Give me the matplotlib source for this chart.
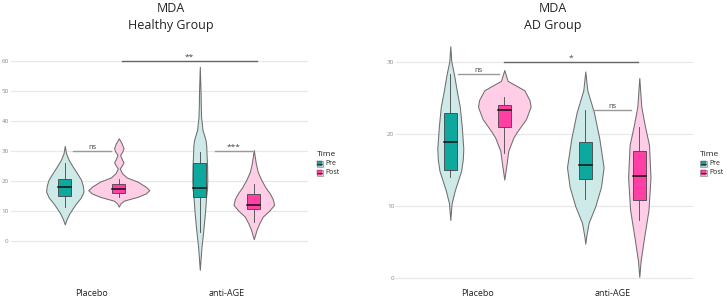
import numpy as np
import matplotlib.pyplot as plt
from matplotlib.patches import Rectangle

# categories / groups
groups = ['Placebo', 'anti-AGE']
times = ['Pre', 'Post']

# ---- Healthy group (order: Placebo-Pre, Placebo-Post, anti-AGE-Pre, anti-AGE-Post)
healthy_q1 = [15.2, 15.9, 14.8, 10.6]
healthy_med = [17.9, 17.3, 17.8, 12.2]
healthy_q3 = [20.6, 19.0, 26.1, 15.7]
healthy_wlo = [11.3, 14.8, 3.2, 6.5]
healthy_whi = [25.9, 20.6, 29.8, 19.0]

# violin outlines: values and half-width (density, px)
healthy_vy = [
    [5.6, 7.5, 9.3, 11, 12.6, 14.5, 16.5, 18.5, 20.4, 22.5, 24.8, 27, 29.2, 31.7],
    [11.5, 12.5, 13.5, 14.8, 15.9, 17.0, 18.1, 19.8, 21.2, 22.6, 24.2, 25.2, 26.2, 27.3, 28.7, 29.8, 30.9, 32.5, 34.2],
    [-9.5, -1.8, 2, 6.0, 10, 14.8, 17.5, 20.4, 25, 29.2, 31.5, 33.7, 35.3, 37.0, 41.4, 45, 50.3, 58.0],
    [0.7, 2, 3.8, 6, 8.2, 10.2, 12.1, 14, 15.9, 18, 20.4, 23, 25.9, 30.3],
]
healthy_vw = [
    [0, 2.0, 4.7, 8, 11.3, 16, 18.7, 18, 16.3, 12.5, 8, 4, 1.3, 0],
    [0, 1.5, 5, 19, 27, 30.5, 27, 19, 8, 3.3, 1, 3, 4.7, 3, 1.3, 3.5, 4.7, 3, 0],
    [0, 1.7, 3, 4.2, 5.3, 6.3, 7.2, 7.5, 7.3, 6.7, 6.5, 5.7, 4.3, 2.7, 1.3, 1.0, 0.7, 0],
    [0, 1.2, 2.7, 5.5, 9, 15.5, 20.3, 19, 16, 11.5, 7.5, 4, 2, 0],
]
healthy_sig = [('ns', 0.864, 1.141, 30), ('***', 1.909, 2.185, 30), ('**', 1.222, 2.222, 60)]

# ---- AD group
ad_q1 = [15.1, 21.0, 13.8, 10.8]
ad_med = [18.9, 23.4, 15.7, 14.2]
ad_q3 = [22.9, 24.0, 18.85, 17.6]
ad_wlo = [14.0, 17.4, 11.0, 8.1]
ad_whi = [28.3, 25.1, 23.3, 21.0]

ad_vy = [
    [8.1, 10.4, 12.2, 14.9, 16.5, 18.0, 21, 23.8, 26, 28.3, 30.1, 32.2],
    [13.7, 15.9, 17.7, 19.5, 20.3, 22.1, 23.8, 24.7, 26.1, 27.4, 28.9],
    [4.8, 5.9, 7.7, 10.0, 12.7, 15.4, 19.4, 23.0, 26.1, 28.7],
    [0.2, 2.4, 5.4, 9.5, 14.0, 18.5, 21.2, 23.8, 27.8],
]
ad_vw = [
    [0, 1.3, 4.5, 10.8, 12.5, 13, 11.5, 9.5, 6.5, 3.7, 1, 0],
    [0, 2.3, 4, 9, 12.5, 21.7, 26.3, 25.3, 20, 3.3, 0],
    [0, 1, 3.3, 10, 15.7, 18.3, 14, 8.7, 2, 0],
    [0, 1.3, 4.5, 9.2, 11.2, 9.7, 5.5, 2, 0],
]
ad_sig = [('ns', 0.857, 1.163, 28.4), ('ns', 1.859, 2.141, 23.3), ('*', 1.2, 2.193, 30)]

# styling
pre_dark, pre_light = '#0fa89e', '#cde9e8'
post_dark, post_light = '#ff3fa4', '#ffcde6'
px_per_unit = 135.0
dodge = 0.2
box_w = 0.094

plt.rcParams['font.family'] = ['Open Sans', 'DejaVu Sans']

fig = plt.figure(figsize=(7.27, 2.97), dpi=100)


def draw_panel(ax, q1, med, q3, wlo, whi, vy, vw, sig, yticks, ylim):
    ax.set_xlim(0.4, 2.6)
    ax.set_ylim(*ylim)
    for t in yticks:
        ax.axhline(t, color='#e8e8e8', lw=0.9, zorder=0)
    k = 0
    for gi in range(len(groups)):
        for ti in range(len(times)):
            x = gi + 1 + (-dodge if ti == 0 else dodge)
            dark = pre_dark if ti == 0 else post_dark
            light = pre_light if ti == 0 else post_light
            y = np.array(vy[k])
            w = np.array(vw[k]) / px_per_unit
            ax.fill_betweenx(y, x - w, x + w, facecolor=light, edgecolor='#6e6e6e', lw=0.75, zorder=1)
            # whiskers
            ax.plot([x, x], [wlo[k], q1[k]], color='#444444', lw=0.6, zorder=2)
            ax.plot([x, x], [q3[k], whi[k]], color='#444444', lw=0.6, zorder=2)
            ax.add_patch(Rectangle((x - box_w / 2, q1[k]), box_w, q3[k] - q1[k],
                                   facecolor=dark, edgecolor='#444444', lw=0.6, zorder=3))
            ax.plot([x - box_w / 2, x + box_w / 2], [med[k], med[k]], color='#111111', lw=1.1, zorder=4)
            k += 1
    for label, x0, x1, yv in sig:
        col = '#666666' if x1 - x0 > 0.5 else '#9a9a9a'
        ax.plot([x0, x1], [yv, yv], color=col, lw=1.0, zorder=5)
        ax.text((x0 + x1) / 2, yv, label, ha='center', va='bottom', fontsize=5.5 if label == 'ns' else 6,
                color='#444444')
    ax.set_xticks([1, 2])
    ax.set_xticklabels(groups, fontsize=6.5, color='#222222')
    ax.set_yticks(yticks)
    ax.set_yticklabels([str(t) for t in yticks], fontsize=4.5, color='#8a8a8a')
    ax.tick_params(length=0, pad=1.5)
    ax.tick_params(axis='x', pad=6)
    for s in ax.spines.values():
        s.set_visible(False)


def draw_legend(x_px):
    W, H = 727.0, 297.0
    fig.text(x_px / W, 1 - 154 / H, 'Time', fontsize=6, color='#222222', va='center', ha='left')
    for i, (name, dark, light) in enumerate([('Pre', pre_dark, pre_light), ('Post', post_dark, post_light)]):
        yc = 163.7 + i * 9
        fig.patches.append(Rectangle((x_px / W, 1 - (yc + 3) / H), 6.5 / W, 6 / H, facecolor=light,
                                     edgecolor='#777777', lw=0.4, transform=fig.transFigure, figure=fig))
        fig.patches.append(Rectangle(((x_px + 0.8) / W, 1 - (yc + 2.2) / H), 4.9 / W, 4.4 / H, facecolor=dark,
                                     edgecolor='#444444', lw=0.3, transform=fig.transFigure, figure=fig))
        fig.lines.append(plt.Line2D([(x_px + 0.8) / W, (x_px + 5.7) / W], [1 - yc / H, 1 - yc / H],
                                    color='#111111', lw=0.5, transform=fig.transFigure, figure=fig))
        fig.text((x_px + 9) / W, 1 - yc / H, name, fontsize=5, color='#222222', va='center', ha='left')


ax1 = fig.add_axes([10.8 / 727, 1 - 280.4 / 297, 297 / 727, (280.4 - 50.2) / 297])
draw_panel(ax1, healthy_q1, healthy_med, healthy_q3, healthy_wlo, healthy_whi,
           healthy_vy, healthy_vw, healthy_sig, [0, 10, 20, 30, 40, 50, 60], (-13, 63.5))

ax2 = fig.add_axes([396.3 / 727, 1 - 281 / 297, 297 / 727, (281 - 34) / 297])
draw_panel(ax2, ad_q1, ad_med, ad_q3, ad_wlo, ad_whi,
           ad_vy, ad_vw, ad_sig, [0, 10, 20, 30], (-0.37, 33.9))

fig.text(171 / 727, 1 - 8 / 297, 'MDA', ha='center', va='center', fontsize=9, color='#222222')
fig.text(171 / 727, 1 - 25 / 297, 'Healthy Group', ha='center', va='center', fontsize=9, color='#222222')
fig.text(553 / 727, 1 - 8 / 297, 'MDA', ha='center', va='center', fontsize=9, color='#222222')
fig.text(553 / 727, 1 - 25 / 297, 'AD Group', ha='center', va='center', fontsize=9, color='#222222')

draw_legend(316.5)
draw_legend(700)

fig.savefig('out.png', dpi=100, facecolor='white')
